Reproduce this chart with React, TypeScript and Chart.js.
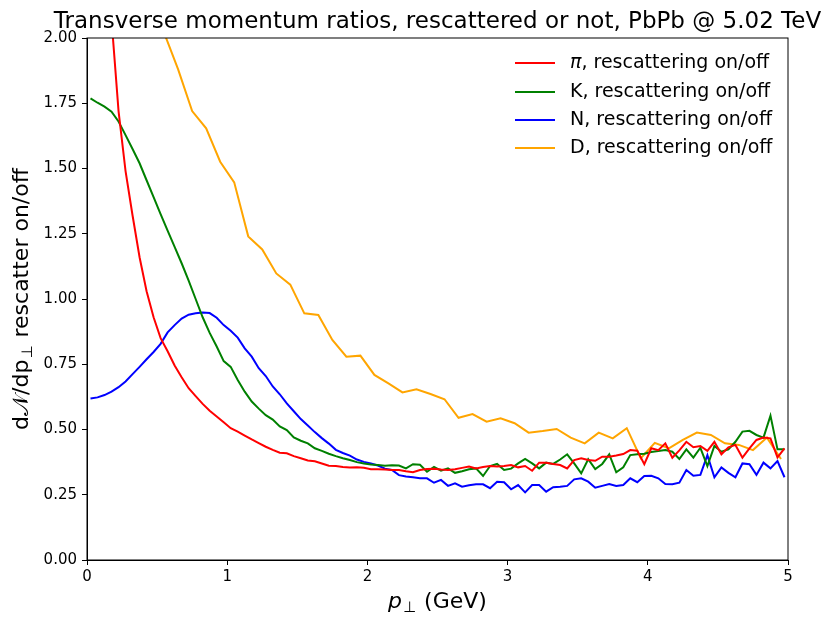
import { useEffect, useRef } from "react";
import { Chart, registerables } from "chart.js";

Chart.register(...registerables);

const FONT = "'DejaVu Sans', sans-serif";

// bin centres (GeV): 0.05 GeV bins for pi/K/N, 0.1 GeV bins for D
const ptFine = Array.from({ length: 100 }, (_, i) => +(0.025 + 0.05 * i).toFixed(3));
const ptCoarse = Array.from({ length: 50 }, (_, i) => +(0.05 + 0.1 * i).toFixed(2));

const pionRatio = [
  4.2, 3.4, 2.6, 2.07, 1.72, 1.49, 1.32, 1.16, 1.03, 0.93,
  0.85, 0.8, 0.745, 0.7, 0.658, 0.628, 0.598, 0.572, 0.55, 0.528,
  0.505, 0.492, 0.477, 0.462, 0.448, 0.434, 0.422, 0.411, 0.409, 0.398,
  0.39, 0.381, 0.378, 0.37, 0.361, 0.36, 0.356, 0.354, 0.355, 0.353,
  0.348, 0.348, 0.347, 0.345, 0.345, 0.34, 0.336, 0.345, 0.349, 0.35,
  0.347, 0.345, 0.348, 0.353, 0.358, 0.351, 0.356, 0.36, 0.358, 0.36,
  0.364, 0.355, 0.36, 0.342, 0.373, 0.373, 0.368, 0.364, 0.351, 0.383,
  0.39, 0.383, 0.38, 0.396, 0.396, 0.4, 0.406, 0.421, 0.419, 0.367,
  0.428, 0.421, 0.447, 0.392, 0.42, 0.453, 0.432, 0.437, 0.418, 0.453,
  0.405, 0.432, 0.441, 0.392, 0.428, 0.46, 0.469, 0.466, 0.393, 0.428,
];

const kaonRatio = [
  1.769, 1.752, 1.737, 1.718, 1.68, 1.628, 1.575, 1.52, 1.455, 1.39,
  1.325, 1.262, 1.2, 1.137, 1.07, 1.0, 0.93, 0.87, 0.818, 0.762,
  0.74, 0.69, 0.645, 0.607, 0.58, 0.555, 0.538, 0.512, 0.498, 0.47,
  0.457, 0.447, 0.428, 0.418, 0.407, 0.398, 0.39, 0.383, 0.375, 0.37,
  0.366, 0.364, 0.361, 0.363, 0.362, 0.351, 0.367, 0.365, 0.338, 0.357,
  0.342, 0.351, 0.334, 0.34, 0.348, 0.351, 0.322, 0.36, 0.368, 0.345,
  0.35, 0.37, 0.387, 0.37, 0.351, 0.373, 0.368, 0.385, 0.405, 0.37,
  0.332, 0.386, 0.348, 0.368, 0.405, 0.336, 0.355, 0.402, 0.405, 0.407,
  0.414, 0.418, 0.421, 0.415, 0.387, 0.424, 0.392, 0.43, 0.36, 0.437,
  0.415, 0.424, 0.453, 0.492, 0.495, 0.479, 0.469, 0.553, 0.424, 0.424,
];

const nucleonRatio = [
  0.619, 0.623, 0.632, 0.645, 0.662, 0.684, 0.712, 0.74, 0.769, 0.797,
  0.828, 0.872, 0.9, 0.925, 0.94, 0.945, 0.948, 0.946, 0.928, 0.9,
  0.878, 0.852, 0.811, 0.779, 0.735, 0.705, 0.665, 0.635, 0.6, 0.57,
  0.54, 0.515, 0.49, 0.467, 0.446, 0.422, 0.41, 0.4, 0.385, 0.376,
  0.37, 0.362, 0.35, 0.345, 0.325, 0.32, 0.317, 0.313, 0.313, 0.296,
  0.307, 0.284, 0.294, 0.281, 0.286, 0.29, 0.29, 0.275, 0.3, 0.298,
  0.271, 0.287, 0.259, 0.287, 0.287, 0.262, 0.279, 0.281, 0.284, 0.309,
  0.313, 0.3, 0.277, 0.284, 0.291, 0.284, 0.287, 0.313, 0.298, 0.322,
  0.323, 0.313, 0.291, 0.29, 0.296, 0.345, 0.323, 0.326, 0.402, 0.317,
  0.355, 0.334, 0.317, 0.37, 0.367, 0.326, 0.373, 0.351, 0.379, 0.317,
];

const dMesonRatio = [
  3.8, 3.4, 3.0, 2.65, 2.3, 2.02, 1.88, 1.72, 1.654, 1.526,
  1.447, 1.24, 1.19, 1.098, 1.055, 0.945, 0.939, 0.843, 0.779, 0.783,
  0.709, 0.677, 0.642, 0.654, 0.636, 0.616, 0.545, 0.559, 0.53, 0.543,
  0.524, 0.488, 0.494, 0.502, 0.469, 0.447, 0.488, 0.466, 0.505, 0.39,
  0.449, 0.428, 0.46, 0.488, 0.479, 0.447, 0.441, 0.421, 0.469, 0.387,
];

const seriesNames = ["π", "K", "N", "D"];
const seriesColors = ["#ff0000", "#008000", "#0000ff", "#ffa500"];
const titleText = "Transverse momentum ratios, rescattered or not, PbPb @ 5.02 TeV";

const textPlugin = {
  id: "textPlugin",
  afterDraw(chart: any) {
    const { ctx, chartArea: a } = chart;
    ctx.save();
    // frame
    ctx.strokeStyle = "#000";
    ctx.lineWidth = 1;
    ctx.strokeRect(a.left, a.top, a.right - a.left, a.bottom - a.top);

    ctx.fillStyle = "#000";
    ctx.textBaseline = "alphabetic";
    const cx = (a.left + a.right) / 2;

    // title
    ctx.font = `23px ${FONT}`;
    ctx.textAlign = "center";
    ctx.fillText(titleText, cx, 28);

    // x axis label: p⊥ (GeV)
    ctx.textAlign = "left";
    const big = `22px ${FONT}`;
    const bigIt = `italic 22px ${FONT}`;
    const sub = `15px ${FONT}`;
    ctx.font = bigIt;
    const wp = ctx.measureText("p").width;
    ctx.font = sub;
    const ws = ctx.measureText("⊥").width;
    ctx.font = big;
    const wr = ctx.measureText(" (GeV)").width;
    let x0 = cx - (wp + ws + 2 + wr) / 2;
    const by = 608;
    ctx.font = bigIt;
    ctx.fillText("p", x0, by);
    x0 += wp + 1;
    ctx.font = sub;
    ctx.fillText("⊥", x0, by + 4);
    x0 += ws + 1;
    ctx.font = big;
    ctx.fillText(" (GeV)", x0, by);

    // y axis label
    ctx.save();
    ctx.translate(28, (a.top + a.bottom) / 2);
    ctx.rotate(-Math.PI / 2);
    ctx.font = big;
    const w1 = ctx.measureText("d𝒩/dp").width;
    ctx.font = sub;
    const w2 = ctx.measureText("⊥").width;
    ctx.font = big;
    const w3 = ctx.measureText(" rescatter on/off").width;
    let y0 = -(w1 + w2 + 2 + w3) / 2;
    ctx.fillText("d𝒩/dp", y0, 0);
    y0 += w1 + 1;
    ctx.font = sub;
    ctx.fillText("⊥", y0, 4);
    y0 += w2 + 1;
    ctx.font = big;
    ctx.fillText(" rescatter on/off", y0, 0);
    ctx.restore();

    // legend
    const rows = [63, 92, 120, 148];
    ctx.textBaseline = "middle";
    seriesNames.forEach((name, i) => {
      const y = rows[i];
      ctx.strokeStyle = seriesColors[i];
      ctx.lineWidth = 2;
      ctx.beginPath();
      ctx.moveTo(515, y);
      ctx.lineTo(555, y);
      ctx.stroke();
      let tx = 570;
      ctx.font = i === 0 ? `italic 19px ${FONT}` : `19px ${FONT}`;
      ctx.fillText(name, tx, y);
      tx += ctx.measureText(name).width;
      ctx.font = `19px ${FONT}`;
      ctx.fillText(", rescattering on/off", tx, y);
    });
    ctx.restore();
  },
};

export default function App() {
  const chartRef = useRef<HTMLCanvasElement>(null);
  const chartInstance = useRef<Chart | null>(null);

  useEffect(() => {
    document.body.style.margin = "0";
    if (!chartRef.current) return;
    if (chartInstance.current) chartInstance.current.destroy();
    const ctx = chartRef.current.getContext("2d");
    if (!ctx) return;

    const series = [pionRatio, kaonRatio, nucleonRatio, dMesonRatio];
    const xs = [ptFine, ptFine, ptFine, ptCoarse];

    chartInstance.current = new Chart(ctx, {
      type: "line",
      data: {
        datasets: series.map((vals, i) => ({
          label: seriesNames[i],
          data: vals.map((v, j) => ({ x: xs[i][j], y: v })),
          borderColor: seriesColors[i],
          backgroundColor: seriesColors[i],
          borderWidth: 2,
          pointRadius: 0,
          fill: false,
          tension: 0,
        })),
      },
      options: {
        animation: false,
        responsive: true,
        maintainAspectRatio: false,
        layout: { padding: { top: 38, right: 42, left: 0, bottom: 0 } },
        scales: {
          x: {
            type: "linear",
            min: 0,
            max: 5,
            afterFit: (s: any) => {
              s.height = 66;
            },
            ticks: {
              stepSize: 1,
              color: "#000",
              padding: 3,
              maxRotation: 0,
              font: { family: FONT, size: 15 },
              callback: (v: any) => String(v),
            },
            grid: { drawOnChartArea: false, drawTicks: true, tickLength: 5, tickColor: "#000" },
            border: { color: "#000", width: 1 },
          },
          y: {
            min: 0,
            max: 2,
            afterFit: (s: any) => {
              s.width = 87;
            },
            ticks: {
              stepSize: 0.25,
              color: "#000",
              padding: 5,
              font: { family: FONT, size: 15 },
              callback: (v: any) => Number(v).toFixed(2),
            },
            grid: { drawOnChartArea: false, drawTicks: true, tickLength: 5, tickColor: "#000" },
            border: { color: "#000", width: 1 },
          },
        },
        plugins: {
          legend: { display: false },
          tooltip: { enabled: false },
          title: { display: false },
        },
      },
      plugins: [textPlugin],
    });

    return () => {
      if (chartInstance.current) {
        chartInstance.current.destroy();
        chartInstance.current = null;
      }
    };
  }, []);

  return (
    <div style={{ position: "absolute", left: 0, top: 0, width: 830, height: 626, background: "#fff" }}>
      <canvas ref={chartRef} />
    </div>
  );
}
